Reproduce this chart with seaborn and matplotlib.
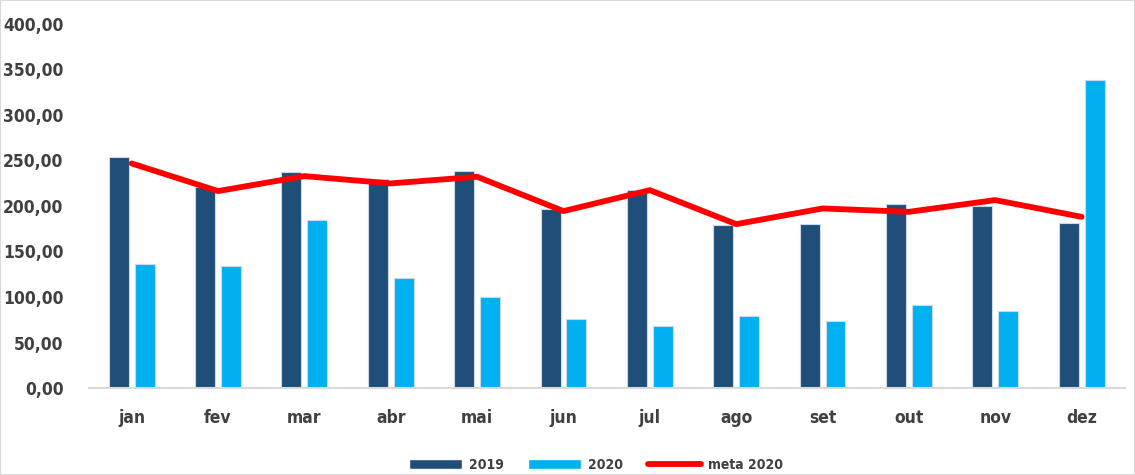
import pandas as pd
import seaborn as sns
import matplotlib.pyplot as plt
from matplotlib import font_manager
from matplotlib.patches import Patch
from matplotlib.lines import Line2D
from matplotlib.ticker import FuncFormatter

# Data
meses = ['jan', 'fev', 'mar', 'abr', 'mai', 'jun', 'jul', 'ago', 'set', 'out', 'nov', 'dez']
v2019 = [253.9, 221.0, 236.8, 229.8, 238.6, 196.5, 218.0, 178.6, 179.7, 201.6, 199.8, 180.8]
v2020 = [135.8, 133.6, 184.8, 120.4, 99.6, 76.1, 68.4, 79.4, 73.2, 91.5, 84.5, 337.7]
meta2020 = [246.6, 216.3, 232.7, 224.7, 232.0, 194.3, 217.3, 180.0, 197.2, 193.5, 206.4, 188.0]

cores = {'2019': '#1F4E79', '2020': '#00B0F0'}
cor_meta = '#FF0000'
cor_texto = '#404040'

sns.set_style('white')

# condensed face if one is installed, otherwise plain DejaVu a bit smaller
condensadas = [f for f in font_manager.fontManager.ttflist
               if 'Narrow' in f.name or 'Condensed' in f.name
               or str(f.stretch) in ('condensed', 'semi-condensed', '500', '600')
               or (isinstance(f.stretch, int) and f.stretch < 500)]
if condensadas:
    plt.rcParams['font.family'] = [condensadas[0].name, 'DejaVu Sans']
    plt.rcParams['font.stretch'] = 'condensed'
    tam = 12.5
else:
    plt.rcParams['font.family'] = ['DejaVu Sans']
    tam = 11
plt.rcParams['font.weight'] = 'bold'

df = pd.DataFrame({'mes': meses * 2,
                   'valor': v2019 + v2020,
                   'ano': ['2019'] * len(meses) + ['2020'] * len(meses)})

fig = plt.figure(figsize=(11.35, 4.75), dpi=100)
ax = fig.add_axes([0.078, 0.183, 0.913, 0.767])

sns.barplot(data=df, x='mes', y='valor', hue='ano', palette=cores, saturation=1,
            width=0.6, gap=0.23, edgecolor='#C9D9EA', linewidth=0.8, legend=False,
            ax=ax, zorder=2)
sns.pointplot(x=meses, y=meta2020, color=cor_meta, markers='', linewidth=4.2, ax=ax, zorder=3)

ax.set_ylim(0, 400)
ax.set_xlim(-0.5, len(meses) - 0.5)
ax.set_yticks(range(0, 401, 50))
ax.yaxis.set_major_formatter(FuncFormatter(lambda v, p: f'{v:.2f}'.replace('.', ',')))
ax.set_xlabel('')
ax.set_ylabel('')
ax.tick_params(axis='y', length=0, pad=18, labelsize=tam, labelcolor=cor_texto)
ax.tick_params(axis='x', length=0, pad=15, labelsize=tam, labelcolor=cor_texto)
for s in ['top', 'right', 'left']:
    ax.spines[s].set_visible(False)
ax.spines['bottom'].set_color('#D9D9D9')
ax.spines['bottom'].set_linewidth(1.5)

handles = [Patch(facecolor=cores['2019'], label='2019'),
           Patch(facecolor=cores['2020'], label='2020'),
           Line2D([], [], color=cor_meta, linewidth=4.2, solid_capstyle='round', label='meta 2020')]
leg = fig.legend(handles=handles, loc='lower center', bbox_to_anchor=(0.525, -0.02), ncol=3,
                 frameon=False, fontsize=10, handlelength=3.8, handleheight=0.7,
                 columnspacing=1.8, handletextpad=0.5)
for t in leg.get_texts():
    t.set_color(cor_texto)

fig.patches.append(plt.Rectangle((0, 0), 1, 1, transform=fig.transFigure, fill=False,
                                 edgecolor='#D9D9D9', linewidth=1.5))

fig.savefig('out.png', dpi=100)
